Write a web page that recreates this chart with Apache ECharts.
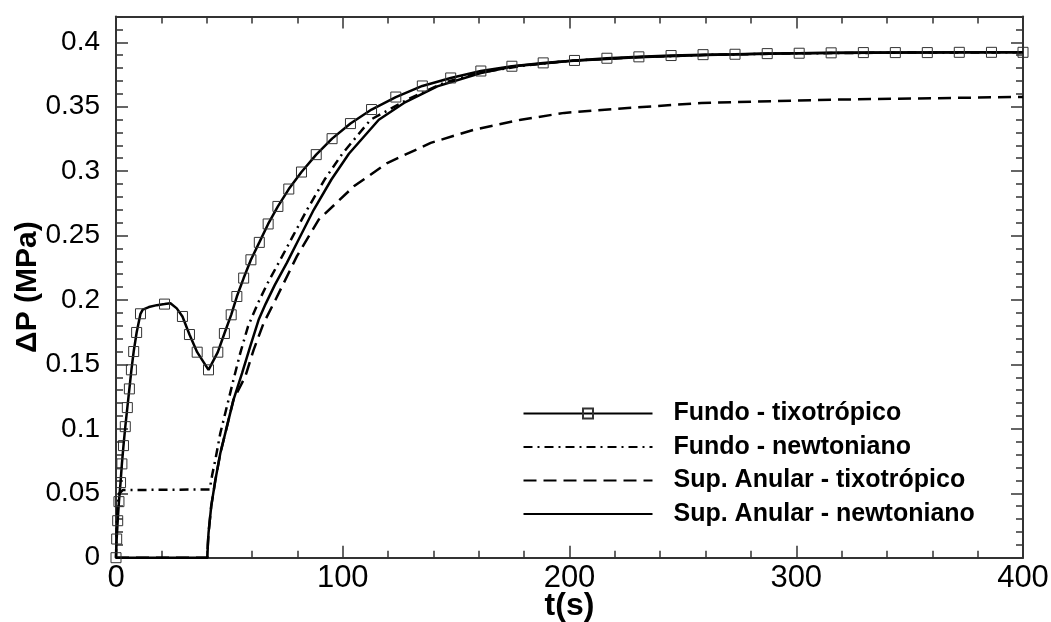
<!DOCTYPE html>
<html>
<head>
<meta charset="utf-8">
<script src="https://cdn.jsdelivr.net/npm/echarts@6/dist/echarts.min.js"></script>
<style>html,body{margin:0;padding:0;background:#fff}#c{width:1051px;height:622px}</style>
</head>
<body>
<div id="c"></div>
<script>
// ---- data (t in s, ΔP in MPa) ----
const xTicks = [0, 100, 200, 300, 400];
const yTicks = [0, 0.05, 0.1, 0.15, 0.2, 0.25, 0.3, 0.35, 0.4];
const seriesNames = ['Fundo - tixotrópico', 'Fundo - newtoniano', 'Sup. Anular - tixotrópico', 'Sup. Anular - newtoniano'];

// Fundo - tixotrópico: points carrying a square symbol
const fundoTixoMarkT = [0,0.3,0.75,1.3,2.0,2.6,3.3,4.1,5.0,5.9,6.8,7.8,9.1,10.8,21.4,29.3,32.4,35.8,40.8,44.9,47.8,50.8,53.3,56.3,59.5,63.2,67.1,71.4,76.2,81.8,88.3,95.3,103.4,112.7,123.4,135.1,147.6,160.9,174.6,188.4,202.2,216.5,230.6,244.8,258.9,273.0,287.2,301.3,315.4,329.6,343.7,357.8,371.9,386.1,400];
const fundoTixoMarkP = [0,0.0145,0.0287,0.0435,0.0583,0.0728,0.087,0.1017,0.1165,0.131,0.1458,0.16,0.1748,0.1893,0.1968,0.1872,0.1732,0.1595,0.1458,0.1595,0.174,0.1885,0.2027,0.217,0.2312,0.2447,0.259,0.2726,0.2861,0.2993,0.3128,0.3252,0.3369,0.3478,0.3575,0.3661,0.3723,0.3777,0.3814,0.384,0.3859,0.3876,0.3887,0.3897,0.3904,0.3907,0.3912,0.3915,0.3918,0.392,0.392,0.392,0.3922,0.3922,0.3922];
// Fundo - tixotrópico: extra curve points between symbols
const fundoTixoCurveT = [11.8, 14.5, 18, 24, 26.8];
const fundoTixoCurveP = [0.1925, 0.1945, 0.196, 0.1975, 0.1935];

const fundoNewtT = [0,0.3,0.8,1.5,3,20,41.3,42.5,43.8,46,48.9,51.8,54.8,58.2,60.4,63,67,72.4,78,84.4,92,99.8,112.3,128.5,145,160,180,200,230,260,300,350,400];
const fundoNewtP = [0,0.025,0.042,0.05,0.0525,0.0527,0.053,0.065,0.0759,0.0966,0.1173,0.138,0.1588,0.1794,0.1885,0.199,0.2135,0.231,0.2495,0.2705,0.2935,0.3135,0.3399,0.3555,0.3688,0.3763,0.382,0.3856,0.3884,0.3902,0.3914,0.392,0.3922];

const supTixoT = [0,40.3,40.5,40.8,42,43.8,46,48.9,51.8,57,60.7,65.1,70.3,79.8,89.4,104.9,119.6,138.8,157.9,178.6,197.7,225.7,258.1,317,400];
const supTixoP = [0,0,0.01,0.019,0.04,0.06,0.081,0.1017,0.1225,0.1406,0.1613,0.182,0.2,0.234,0.2623,0.2882,0.3063,0.3219,0.3322,0.3399,0.3452,0.349,0.3529,0.3555,0.3576];

const supNewtT = [0,40.3,40.5,40.8,42,43.8,46,48.9,51.8,55.6,59.2,62.9,66,70,75.4,81,87.2,95,102.7,115.9,127,141.7,160.9,175.6,200,230,260,300,350,400];
const supNewtP = [0,0,0.01,0.019,0.04,0.06,0.081,0.1017,0.1225,0.1432,0.164,0.1846,0.197,0.2115,0.229,0.2485,0.27,0.2935,0.3135,0.3399,0.3529,0.3658,0.3762,0.3814,0.3855,0.3884,0.3902,0.3914,0.392,0.3922];

// ---- build ----
function pairs(T, P) { return T.map((t, i) => [t, P[i]]); }
const fundoTixoData = fundoTixoMarkT.map((t, i) => ({ value: [t, fundoTixoMarkP[i]] }))
  .concat(fundoTixoCurveT.map((t, i) => ({ value: [t, fundoTixoCurveP[i]], symbol: 'none' })))
  .sort((a, b) => a.value[0] - b.value[0]);

const axisColor = '#333';
const sans = '"Liberation Sans", Arial, Helvetica, sans-serif';
const lineW = 2.5;

function xAxisCfg(pos, withLabels) {
  return {
    type: 'value', position: pos, min: xTicks[0], max: xTicks[xTicks.length - 1], interval: xTicks[1] - xTicks[0],
    axisLine: { show: true, onZero: false, lineStyle: { color: axisColor, width: 2 } },
    axisTick: { show: true, inside: true, length: 12, lineStyle: { color: axisColor, width: 1.5 } },
    minorTick: { show: true, splitNumber: 5, length: 7, lineStyle: { color: axisColor, width: 1.5 } },
    splitLine: { show: false },
    axisLabel: withLabels ? { show: true, color: '#000', fontSize: 31, fontFamily: sans, margin: 5 } : { show: false },
    name: withLabels ? 't(s)' : '', nameLocation: 'middle', nameGap: 32, nameMoveOverlap: false,
    nameTextStyle: { color: '#000', fontSize: 32, fontWeight: 'bold', fontFamily: sans }
  };
}
function yAxisCfg(pos, withLabels, minor) {
  return {
    type: 'value', position: pos, min: 0, max: 0.42, interval: minor ? 0.01 : yTicks[1] - yTicks[0],
    axisLine: { show: !minor, onZero: false, lineStyle: { color: axisColor, width: 2 } },
    axisTick: { show: true, inside: true, length: minor ? 7 : 12, lineStyle: { color: axisColor, width: 1.5 } },
    splitLine: { show: false },
    axisLabel: withLabels ? { show: true, color: '#000', fontSize: 28, fontFamily: sans, margin: 16, showMaxLabel: false } : { show: false },
    name: withLabels ? 'ΔP (MPa)' : '', nameLocation: 'middle', nameGap: 73, nameRotate: 90, nameMoveOverlap: false,
    nameTextStyle: { color: '#000', fontSize: 30, fontWeight: 'bold', fontFamily: sans }
  };
}

const chart = echarts.init(document.getElementById('c'), null, { renderer: 'canvas' });
chart.setOption({
  backgroundColor: '#fff',
  animation: false,
  grid: { left: 116, right: 28, top: 16.5, bottom: 64.3, containLabel: false, outerBoundsMode: 'none' },
  xAxis: [xAxisCfg('bottom', true), xAxisCfg('top', false)],
  yAxis: [yAxisCfg('left', true, false), yAxisCfg('left', false, true), yAxisCfg('right', false, false), yAxisCfg('right', false, true)],
  legend: {
    orient: 'vertical', left: 522.5, top: 401, padding: 0,
    itemWidth: 129, itemHeight: 12.5, itemGap: 8.5,
    data: [
      { name: seriesNames[0] },
      { name: seriesNames[1], itemStyle: { opacity: 0 } },
      { name: seriesNames[2], itemStyle: { opacity: 0 } },
      { name: seriesNames[3], itemStyle: { opacity: 0 } }
    ],
    textStyle: { color: '#000', fontSize: 25, fontWeight: 'bold', fontFamily: sans, lineHeight: 25, padding: [0, 0, 0, 16] }
  },
  series: [
    {
      name: seriesNames[0], type: 'line', data: fundoTixoData, z: 5,
      symbol: 'rect', symbolSize: 10, showSymbol: true, showAllSymbol: true,
      lineStyle: { color: '#000', width: lineW },
      itemStyle: { color: 'rgba(255,255,255,0)', borderColor: '#333', borderWidth: 1 }
    },
    {
      name: seriesNames[1], type: 'line', data: pairs(fundoNewtT, fundoNewtP), symbol: 'none',
      lineStyle: { color: '#000', width: lineW, type: [9, 5, 2, 5] }, itemStyle: { color: '#000' }
    },
    {
      name: seriesNames[2], type: 'line', data: pairs(supTixoT, supTixoP), symbol: 'none',
      lineStyle: { color: '#000', width: lineW, type: [13, 7] }, itemStyle: { color: '#000' }
    },
    {
      name: seriesNames[3], type: 'line', data: pairs(supNewtT, supNewtP), symbol: 'none',
      lineStyle: { color: '#000', width: lineW }, itemStyle: { color: '#000' }
    }
  ]
});
</script>
</body>
</html>
